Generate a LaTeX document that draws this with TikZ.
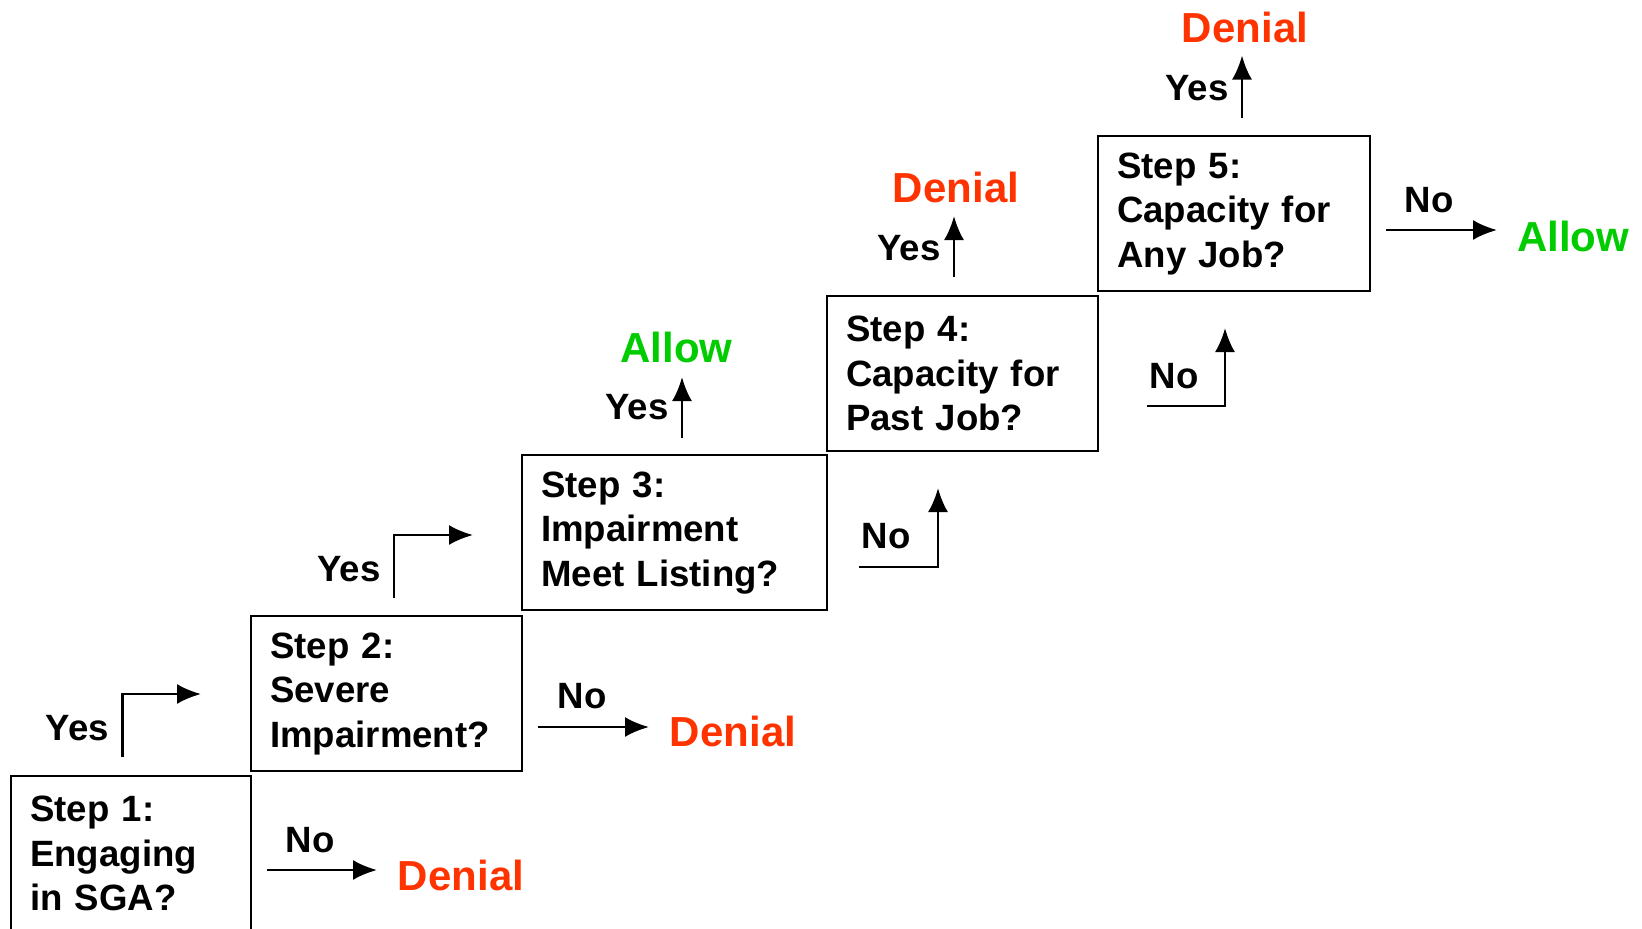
\documentclass[tikz,border=0pt]{standalone}
\usepackage{fontspec}
\setmainfont{Liberation Sans}
\usetikzlibrary{arrows.meta}
\definecolor{denial}{RGB}{255,51,0}
\definecolor{allow}{RGB}{0,204,0}
\tikzset{
  stepbox/.style={draw,line width=1.2pt,anchor=north west,align=left,inner xsep=9.5pt,
    minimum height=77.5pt,font=\bfseries\fontsize{18.3}{22.25}\selectfont},
  lbl/.style={font=\bfseries\fontsize{18.3}{22}\selectfont},
  outcome/.style={font=\bfseries\fontsize{21}{25}\selectfont},
  arr/.style={line width=1.3pt,-{Latex[length=12pt,width=10pt]}},
}
\begin{document}
\begin{tikzpicture}[x=0.5pt,y=-0.5pt]% pixels
\useasboundingbox (0,0) rectangle (1642,928);

% boxes
\node[stepbox,text width=101pt]   (s1) at (10,775)   {Step 1:\\Engaging\\in SGA?};
\node[stepbox,text width=116.5pt] (s2) at (250,615)  {Step 2:\\Severe\\Impairment?};
\node[stepbox,text width=133.5pt] (s3) at (521,454)  {Step 3:\\Impairment\\Meet Listing?};
\node[stepbox,text width=116.5pt] (s4) at (826,295)  {Step 4:\\Capacity for\\Past Job?};
\node[stepbox,text width=117pt]   (s5) at (1097,135) {Step 5:\\Capacity for\\Any Job?};

% outcomes
\node[outcome,denial] (d1) at (461,875)  {Denial};
\node[outcome,denial] (d2) at (733,731)  {Denial};
\node[outcome,allow]  (a3) at (676.5,347) {Allow};
\node[outcome,denial] (d4) at (956,187)  {Denial};
\node[outcome,denial] (d5) at (1245,27)  {Denial};
\node[outcome,allow]  (a5) at (1573,236) {Allow};

% yes / no
\node[lbl] (n1) at (310,840)  {No};
\node[lbl] (y1) at (77.5,728) {Yes};
\node[lbl] (n2) at (582,696)  {No};
\node[lbl] (y2) at (349,569)  {Yes};
\node[lbl] (y3) at (637,407)  {Yes};
\node[lbl] (n3) at (886,536)  {No};
\node[lbl] (y4) at (909,248)  {Yes};
\node[lbl] (n4) at (1174,376) {No};
\node[lbl] (y5) at (1197,88)  {Yes};
\node[lbl] (n5) at (1429,200) {No};

% arrow ends
\coordinate (n1a) at (267,870);   \coordinate (n1b) at (377,870);
\coordinate (y1a) at (122.5,757); \coordinate (y1k) at (122.5,694); \coordinate (y1b) at (201,694);
\coordinate (n2a) at (538,727);   \coordinate (n2b) at (649,727);
\coordinate (y2a) at (394,598);   \coordinate (y2k) at (394,535);   \coordinate (y2b) at (473,535);
\coordinate (y3a) at (682,438);   \coordinate (y3b) at (682,377);
\coordinate (n3a) at (859,567);   \coordinate (n3k) at (938,567);   \coordinate (n3b) at (938,488);
\coordinate (y4a) at (954,277);   \coordinate (y4b) at (954,216);
\coordinate (n4a) at (1147,406);  \coordinate (n4k) at (1225,406);  \coordinate (n4b) at (1225,328);
\coordinate (y5a) at (1242,118);  \coordinate (y5b) at (1242,55.5);
\coordinate (n5a) at (1386,230);  \coordinate (n5b) at (1497,230);

% arrows
\draw[arr] (n1a) -- (n1b);
\draw[arr] (y1a) -- (y1k) -- (y1b);
\draw[arr] (n2a) -- (n2b);
\draw[arr] (y2a) -- (y2k) -- (y2b);
\draw[arr] (y3a) -- (y3b);
\draw[arr] (n3a) -- (n3k) -- (n3b);
\draw[arr] (y4a) -- (y4b);
\draw[arr] (n4a) -- (n4k) -- (n4b);
\draw[arr] (y5a) -- (y5b);
\draw[arr] (n5a) -- (n5b);

\end{tikzpicture}
\end{document}
